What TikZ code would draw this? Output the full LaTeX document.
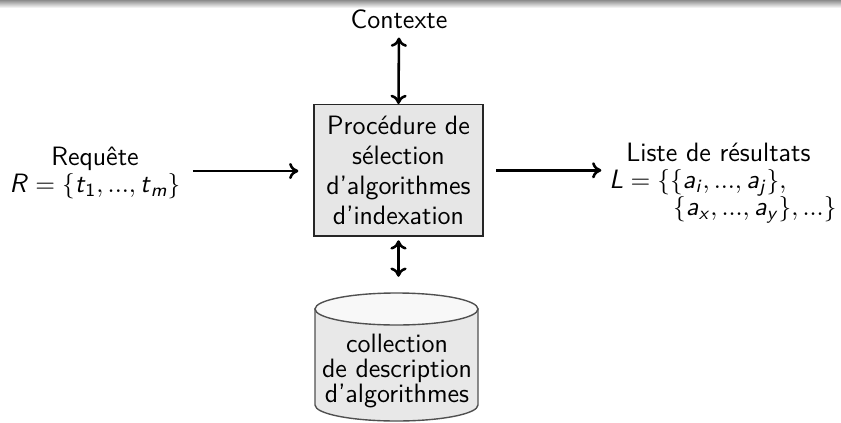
\documentclass[tikz,border=0pt]{standalone}
\usepackage{amsmath}
\usetikzlibrary{arrows.meta}
% sans-serif italic letters for the formulas
\newcommand{\sv}[1]{\textsf{\textit{#1}}}
\newcommand{\sn}[1]{\textsf{#1}}
\definecolor{boxfill}{RGB}{230,230,230}
\definecolor{cylbody}{RGB}{232,232,232}
\definecolor{cyltop}{RGB}{248,248,248}
\definecolor{cylline}{RGB}{80,80,80}
\tikzset{
  lbl/.style={font=\sffamily\fontsize{11.45}{12.9}\selectfont, inner sep=0pt},
  procbox/.style={lbl, draw=black!85, line width=0.5pt, fill=boxfill,
    minimum width=72.9pt, minimum height=56.7pt, align=center},
  arr/.style={line width=1.1pt, -{To[length=4pt,width=7pt]}},
  darr/.style={line width=1.1pt, {To[length=4pt,width=7pt]}-{To[length=4pt,width=7pt]}},
}
\begin{document}
\begin{tikzpicture}[x=0.4314pt,y=-0.4314pt]
\useasboundingbox (0,0) rectangle (841,422);

% header strip
\shade[top color=black!45, bottom color=white] (0,0) rectangle (841,8);

% central procedure box
\node[procbox] (proc) at (398.5,170.3)
  {Procédure de\\sélection\\d'algorithmes\\d'indexation};

% context
\node[lbl, anchor=base] (ctx) at (399,28) {Contexte};

% request
\node[lbl, align=center, font=\sffamily\fontsize{11.45}{11.8}\selectfont] (req) at (95,173)
  {Requête\\$\sv{R} = \{\sv{t}_{\sn{1}}, ..., \sv{t}_{\sv{m}}\}$};

% results
\node[lbl, align=left, anchor=west, font=\sffamily\fontsize{11.45}{11.6}\selectfont] (res) at (609,183)
  {\hspace*{7.3pt}Liste de résultats\\
   $\sv{L} = \{\{\sv{a}_{\sv{i}}, ..., \sv{a}_{\sv{j}}\},$\\
   \hspace*{27.5pt}$\{\sv{a}_{\sv{x}}, ..., \sv{a}_{\sv{y}}\}, ...\}$};

% algorithm collection (cylinder)
\filldraw[draw=cylline, fill=cylbody, line width=0.6pt]
  (315,309) -- (315,405) arc[start angle=180, end angle=0, x radius=81.5, y radius=16]
  -- (478,309) -- cycle;
\filldraw[draw=cylline, fill=cyltop, line width=0.6pt]
  (396.5,309) ellipse[x radius=81.5, y radius=16];
\coordinate (colltop) at (398.5,293);
\node[lbl, align=center, font=\sffamily\fontsize{11.45}{10.9}\selectfont] (coll) at (397,371)
  {collection\\de description\\d'algorithmes};

% connectors
\draw[darr, shorten <=3.8pt] (ctx.south) -- (proc.north);
\draw[arr, shorten <=5.2pt, shorten >=6.5pt] (req.east |- 0,171) -- (proc.west |- 0,171);
\draw[arr, shorten <=5.5pt, shorten >=3.3pt] (proc.east) -- (proc.east -| res.west);
\draw[darr, shorten <=1.6pt, shorten >=7pt] (proc.south) -- (colltop);
\end{tikzpicture}
\end{document}
